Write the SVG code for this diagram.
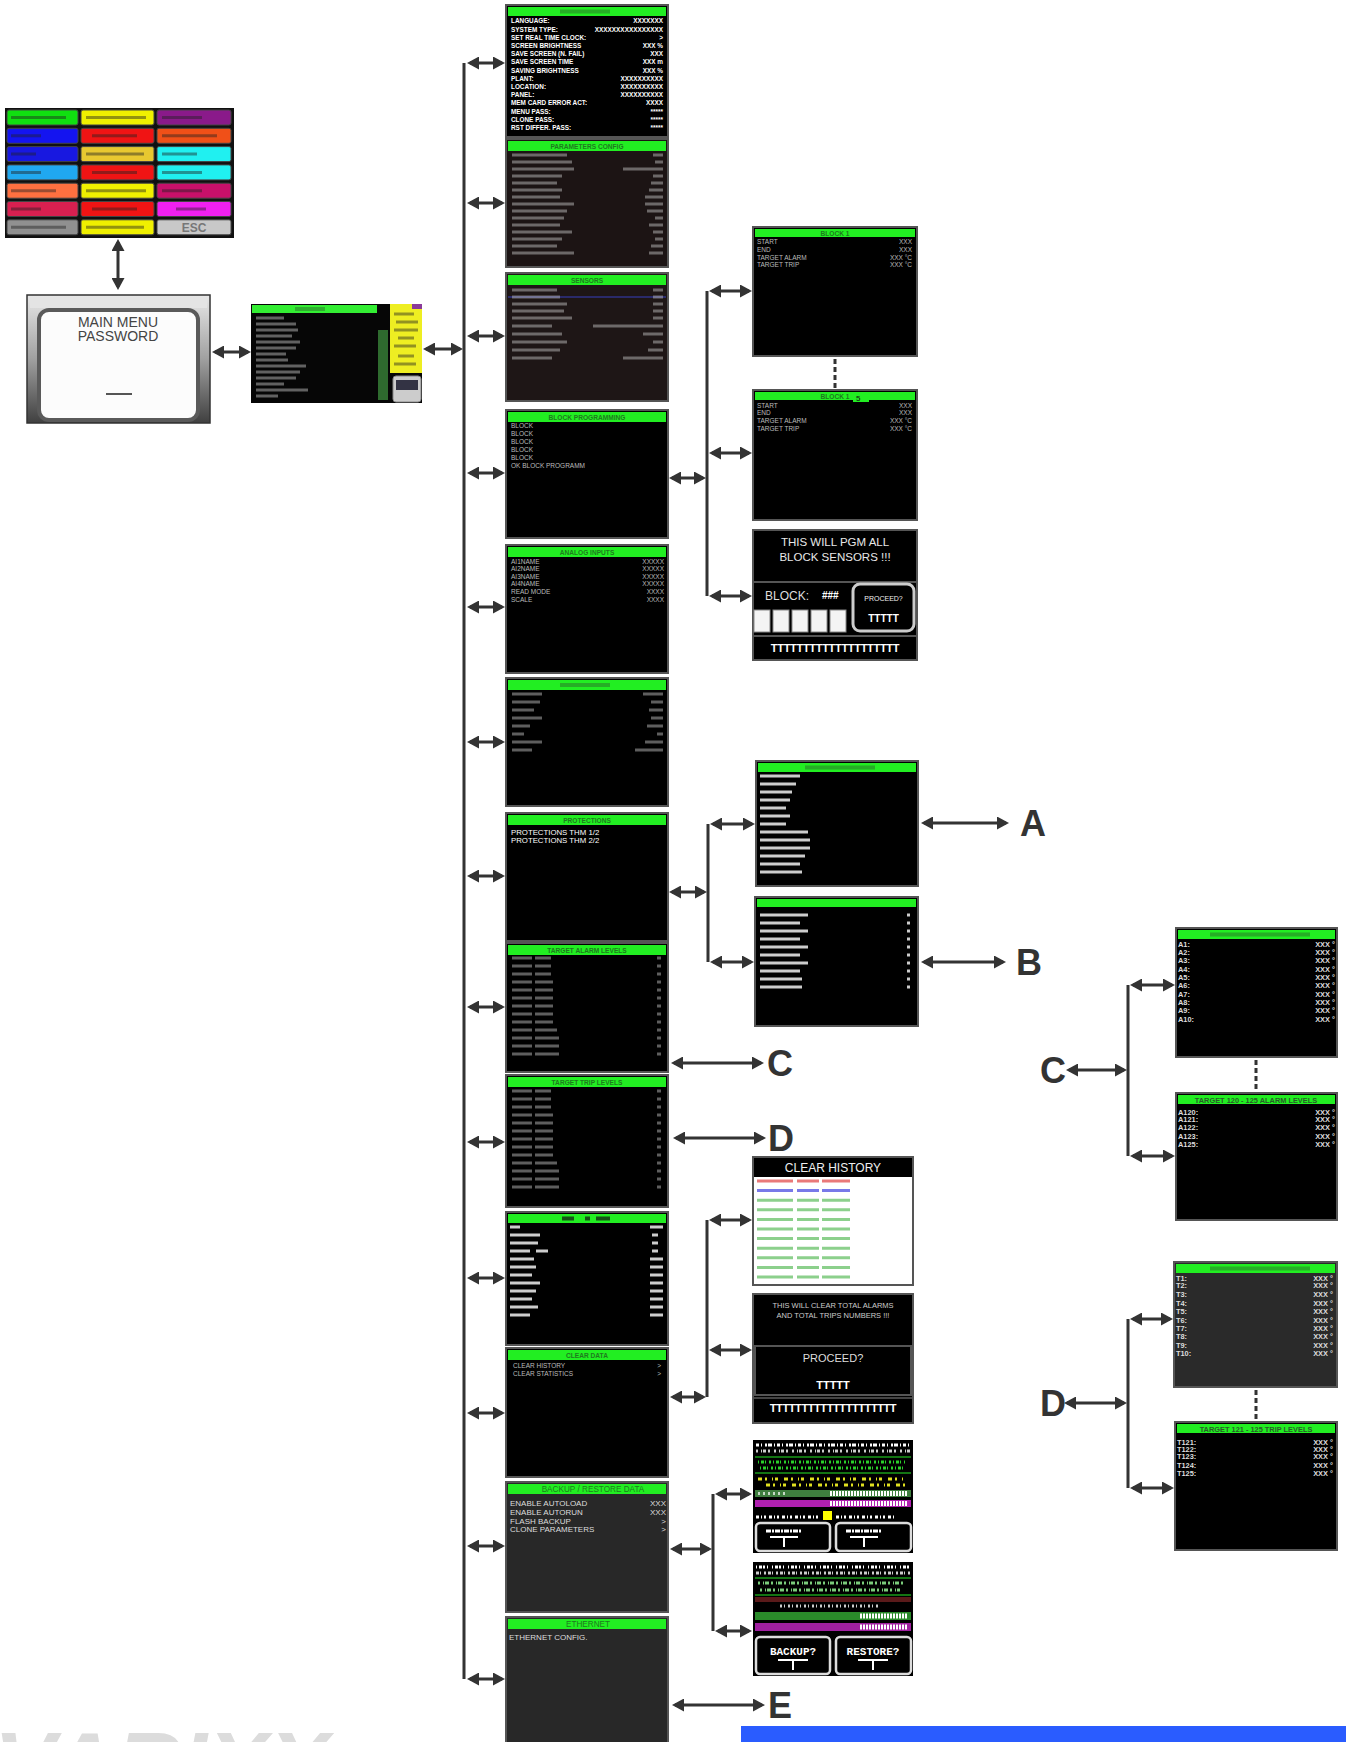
<svg xmlns="http://www.w3.org/2000/svg" width="1346" height="1742" viewBox="0 0 1346 1742">
<defs>
<style>
.scr{stroke:#555;stroke-width:2}
.hdr{fill:#22ee22}
.ht{font-family:"Liberation Sans",Arial,sans-serif;font-weight:bold;font-size:6.6px;fill:#1f7a1f;text-anchor:middle}
.t{font-family:"Liberation Sans",Arial,sans-serif;font-weight:bold;font-size:6.4px;fill:#fff}
.tn{font-family:"Liberation Sans",Arial,sans-serif;font-size:6.5px;fill:#bbb}
.t8{font-family:"Liberation Sans",Arial,sans-serif;font-size:8px;fill:#ddd}
.ta{font-family:"Liberation Sans",Arial,sans-serif;font-weight:bold;font-size:7.4px;fill:#ddd}
.e{text-anchor:end}
.m{text-anchor:middle}
.hb{stroke:#2a7a2a;stroke-width:4;opacity:.55;fill:none}
.bw{stroke:#bbb;stroke-width:3;opacity:.5;fill:none}
.bs{stroke:#fff;stroke-width:3;opacity:.8;fill:none}
.bd{stroke:#222;stroke-width:3;opacity:.45;fill:none}
.ln{stroke:#333;stroke-width:3;fill:none}
.arr{stroke:#333;stroke-width:3;fill:none}
.dash{stroke:#333;stroke-width:3;stroke-dasharray:5 3;fill:none}
.big{font-family:"Liberation Sans",Arial,sans-serif;font-weight:bold;font-size:36px;fill:#333}
.nz{fill:none;stroke-width:3}
</style>
<marker id="ah" viewBox="0 0 12 13" refX="9" refY="6.5" markerWidth="12" markerHeight="13" markerUnits="userSpaceOnUse" orient="auto-start-reverse">
<path d="M0,0 L12,6.5 L0,13 Z" fill="#333"/>
</marker>
<linearGradient id="bez" x1="0" y1="0" x2="0" y2="1">
<stop offset="0" stop-color="#e8e8e8"/>
<stop offset="0.5" stop-color="#a0a0a0"/>
<stop offset="1" stop-color="#404040"/>
</linearGradient>
</defs>
<rect width="1346" height="1742" fill="#fff"/>

<!-- logo -->
<text x="-6" y="1797" font-family="Liberation Sans, Arial, sans-serif" font-weight="bold" font-style="italic" font-size="92" fill="#dcdcdc">VARIXX</text>
<rect x="741" y="1726" width="605" height="16" fill="#2a5cff"/>

<!-- color grid -->
<g id="color-grid">
<rect x="5" y="108" width="229" height="130" fill="#111"/>
<rect x="7" y="110" width="71" height="15" rx="2" fill="#10e010" stroke="#444"/>
<rect x="81" y="110" width="73" height="15" rx="2" fill="#f0f000" stroke="#444"/>
<rect x="157" y="110" width="74" height="15" rx="2" fill="#8a1a8a" stroke="#444"/>
<rect x="7" y="128.3" width="71" height="15" rx="2" fill="#1414f0" stroke="#444"/>
<rect x="81" y="128.3" width="73" height="15" rx="2" fill="#f01414" stroke="#444"/>
<rect x="157" y="128.3" width="74" height="15" rx="2" fill="#f05018" stroke="#444"/>
<rect x="7" y="146.6" width="71" height="15" rx="2" fill="#1818e0" stroke="#444"/>
<rect x="81" y="146.6" width="73" height="15" rx="2" fill="#e8c830" stroke="#444"/>
<rect x="157" y="146.6" width="74" height="15" rx="2" fill="#20f0f0" stroke="#444"/>
<rect x="7" y="164.9" width="71" height="15" rx="2" fill="#20a8f0" stroke="#444"/>
<rect x="81" y="164.9" width="73" height="15" rx="2" fill="#f01414" stroke="#444"/>
<rect x="157" y="164.9" width="74" height="15" rx="2" fill="#20f0f0" stroke="#444"/>
<rect x="7" y="183.2" width="71" height="15" rx="2" fill="#ff7040" stroke="#444"/>
<rect x="81" y="183.2" width="73" height="15" rx="2" fill="#f0f000" stroke="#444"/>
<rect x="157" y="183.2" width="74" height="15" rx="2" fill="#c8106a" stroke="#444"/>
<rect x="7" y="201.5" width="71" height="15" rx="2" fill="#d82050" stroke="#444"/>
<rect x="81" y="201.5" width="73" height="15" rx="2" fill="#f01414" stroke="#444"/>
<rect x="157" y="201.5" width="74" height="15" rx="2" fill="#f020f0" stroke="#444"/>
<rect x="7" y="219.8" width="71" height="15" rx="2" fill="#909090" stroke="#444"/>
<rect x="81" y="219.8" width="73" height="15" rx="2" fill="#f0f000" stroke="#444"/>
<rect x="157" y="219.8" width="74" height="15" rx="2" fill="#c8c8c8" stroke="#444"/>
<path class="bd" d="M11 117.5h55M86 117.5h60M162 117.5h40M11 135.8h30M92 135.8h45M162 135.8h55M11 154.1h25M86 154.1h58M162 154.1h35M11 172.4h30M92 172.4h45M162 172.4h40M11 190.7h45M86 190.7h60M162 190.7h40M11 209h30M92 209h45M176 209h30M11 227.3h55M86 227.3h58"/>
<text x="194" y="231.5" font-family="Liberation Sans, Arial, sans-serif" font-weight="bold" font-size="12" fill="#777" text-anchor="middle">ESC</text>
</g>

<!-- password -->
<g id="main-menu-password">
<rect x="27" y="295" width="183" height="128" fill="url(#bez)" stroke="#333" stroke-width="1.5"/>
<rect x="30" y="297" width="177" height="11" fill="#e4e4e4"/>
<rect x="39" y="310" width="159" height="110" rx="10" fill="#fcfcfc" stroke="#5a5a5a" stroke-width="4"/>
<text x="118" y="327" font-family="Liberation Sans, Arial, sans-serif" font-size="14" fill="#444" text-anchor="middle">MAIN MENU</text>
<text x="118" y="341" font-family="Liberation Sans, Arial, sans-serif" font-size="14" fill="#444" text-anchor="middle">PASSWORD</text>
<path d="M106 394h26" stroke="#555" stroke-width="2"/>
</g>

<!-- main menu -->
<g id="main-menu">
<rect x="251" y="304" width="171" height="99" fill="#060606"/>
<rect x="252" y="305" width="125" height="8" fill="#33ee33"/>
<path class="hb" d="M295 309h30"/>
<path class="bw" d="M256 318h28M256 324h40M256 330h42M256 336h36M256 342h44M256 348h40M256 354h30M256 360h32M256 366h50M256 372h44M256 378h40M256 384h28M256 390h52M256 396h22"/>
<rect x="378" y="330" width="10" height="70" fill="#2e6a2e"/>
<rect x="390" y="304" width="32" height="69" fill="#eeee22"/>
<rect x="412" y="304" width="10" height="5" fill="#8a3a9a"/>
<path class="bd" d="M394 314h20M396 322h22M394 330h24M398 338h16M394 346h22M398 356h16M394 364h22"/>
<rect x="393" y="376" width="28" height="26" rx="3" fill="#ccc" stroke="#888"/>
<rect x="396" y="380" width="22" height="10" fill="#334"/>
</g>

<!-- column screens -->
<g id="general-setup">
<rect class="scr" x="506" y="5" width="162" height="132" fill="#000"/>
<rect class="hdr" x="508" y="7" width="158" height="9"/>
<path class="hb" d="M560 11.5h50"/>
<text class="t" x="511" y="23.4">LANGUAGE:</text><text class="t e" x="663" y="23.4">XXXXXXX</text>
<text class="t" x="511" y="31.6">SYSTEM TYPE:</text><text class="t e" x="663" y="31.6">XXXXXXXXXXXXXXXX</text>
<text class="t" x="511" y="39.8">SET REAL TIME CLOCK:</text><text class="t e" x="663" y="39.8">&gt;</text>
<text class="t" x="511" y="48">SCREEN BRIGHTNESS</text><text class="t e" x="663" y="48">XXX %</text>
<text class="t" x="511" y="56.2">SAVE SCREEN (N. FAIL)</text><text class="t e" x="663" y="56.2">XXX</text>
<text class="t" x="511" y="64.4">SAVE SCREEN TIME</text><text class="t e" x="663" y="64.4">XXX m</text>
<text class="t" x="511" y="72.6">SAVING BRIGHTNESS</text><text class="t e" x="663" y="72.6">XXX %</text>
<text class="t" x="511" y="80.8">PLANT:</text><text class="t e" x="663" y="80.8">XXXXXXXXXX</text>
<text class="t" x="511" y="89">LOCATION:</text><text class="t e" x="663" y="89">XXXXXXXXXX</text>
<text class="t" x="511" y="97.2">PANEL:</text><text class="t e" x="663" y="97.2">XXXXXXXXXX</text>
<text class="t" x="511" y="105.4">MEM CARD ERROR ACT:</text><text class="t e" x="663" y="105.4">XXXX</text>
<text class="t" x="511" y="113.6">MENU PASS:</text><text class="t e" x="663" y="113.6">*****</text>
<text class="t" x="511" y="121.8">CLONE PASS:</text><text class="t e" x="663" y="121.8">*****</text>
<text class="t" x="511" y="130">RST  DIFFER. PASS:</text><text class="t e" x="663" y="130">*****</text>
</g>

<g id="parameters-config">
<rect class="scr" x="506" y="139" width="162" height="128" fill="#1c1414"/>
<rect class="hdr" x="508" y="141" width="158" height="10"/>
<text class="ht" x="587" y="148.5">PARAMETERS CONFIG</text>
<path class="bw" d="M512 155h55M512 162h60M512 169h62M512 176h50M512 183h45M512 190h50M512 197h48M512 204h62M512 211h55M512 218h52M512 225h48M512 232h60M512 239h50M512 246h45M512 253h62M653 155h10M655 162h8M623 169h40M653 176h10M651 183h12M649 190h14M645 197h18M645 204h18M647 211h16M655 218h8M649 225h14M653 232h10M655 239h8M651 246h12M649 253h14"/>
</g>

<g id="sensors">
<rect class="scr" x="506" y="273" width="162" height="128" fill="#1e1616"/>
<rect class="hdr" x="508" y="275" width="158" height="10"/>
<text class="ht" x="587" y="282.5">SENSORS</text>
<path d="M508 297h158" stroke="#2a2a6a" stroke-width="2"/>
<path class="bw" d="M512 290h45M512 297h48M512 304h55M512 311h52M512 318h60M512 326h40M512 334h50M512 342h55M512 350h48M512 358h40M653 290h10M653 297h10M653 304h10M653 311h10M653 318h10M593 326h70M643 334h20M653 342h10M648 350h15M623 358h40"/>
</g>

<g id="block-programming">
<rect class="scr" x="506" y="410" width="162" height="128" fill="#000"/>
<rect class="hdr" x="508" y="412" width="158" height="10"/>
<text class="ht" x="587" y="419.5">BLOCK PROGRAMMING</text>
<text class="tn" x="511" y="427.5">BLOCK</text>
<text class="tn" x="511" y="435.5">BLOCK</text>
<text class="tn" x="511" y="443.5">BLOCK</text>
<text class="tn" x="511" y="451.5">BLOCK</text>
<text class="tn" x="511" y="459.5">BLOCK</text>
<text class="tn" x="511" y="467.5">OK BLOCK PROGRAMM</text>
</g>

<g id="analog-inputs">
<rect class="scr" x="506" y="545" width="162" height="128" fill="#000"/>
<rect class="hdr" x="508" y="547" width="158" height="10"/>
<text class="ht" x="587" y="554.5">ANALOG INPUTS</text>
<text class="tn" x="511" y="563.5">AI1NAME</text><text class="tn e" x="664" y="563.5">XXXXX</text>
<text class="tn" x="511" y="571">AI2NAME</text><text class="tn e" x="664" y="571">XXXXX</text>
<text class="tn" x="511" y="578.5">AI3NAME</text><text class="tn e" x="664" y="578.5">XXXXX</text>
<text class="tn" x="511" y="586">AI4NAME</text><text class="tn e" x="664" y="586">XXXXX</text>
<text class="tn" x="511" y="594">READ MODE</text><text class="tn e" x="664" y="594">XXXX</text>
<text class="tn" x="511" y="601.5">SCALE</text><text class="tn e" x="664" y="601.5">XXXX</text>
</g>

<g id="communication">
<rect class="scr" x="506" y="678" width="162" height="128" fill="#000"/>
<rect class="hdr" x="508" y="680" width="158" height="10"/>
<path class="hb" d="M560 685h50"/>
<path class="bw" d="M512 694h30M512 702h28M512 710h22M512 718h30M512 726h18M512 734h12M512 742h30M512 750h20M643 694h20M651 702h12M649 710h14M651 718h12M647 726h16M657 734h6M645 742h18M635 750h28"/>
</g>

<g id="protections">
<rect class="scr" x="506" y="813" width="162" height="128" fill="#000"/>
<rect class="hdr" x="508" y="815" width="158" height="10"/>
<text class="ht" x="587" y="822.5">PROTECTIONS</text>
<text x="511" y="835" font-family="Liberation Sans, Arial, sans-serif" font-size="7.8" fill="#fff">PROTECTIONS THM 1/2</text>
<text x="511" y="843" font-family="Liberation Sans, Arial, sans-serif" font-size="7.8" fill="#fff">PROTECTIONS THM 2/2</text>
</g>

<g id="target-alarm-levels">
<rect class="scr" x="506" y="943" width="162" height="129" fill="#000"/>
<rect class="hdr" x="508" y="945" width="158" height="10"/>
<text class="ht" x="587" y="952.5">TARGET ALARM LEVELS</text>
<path class="bw" d="M512 958h20M535 958h16M512 966h20M535 966h16M512 974h20M535 974h16M512 982h20M535 982h18M512 990h20M535 990h18M512 998h20M535 998h18M512 1006h20M535 1006h18M512 1014h20M535 1014h18M512 1022h20M535 1022h18M512 1030h20M535 1030h22M512 1038h20M535 1038h24M512 1046h20M535 1046h24M512 1054h20M535 1054h24M657 958h4M657 966h4M657 974h4M657 982h4M657 990h4M657 998h4M657 1006h4M657 1014h4M657 1022h4M657 1030h4M657 1038h4M657 1046h4M657 1054h4"/>
</g>

<g id="target-trip-levels">
<rect class="scr" x="506" y="1075" width="162" height="132" fill="#000"/>
<rect class="hdr" x="508" y="1077" width="158" height="10"/>
<text class="ht" x="587" y="1084.5">TARGET TRIP LEVELS</text>
<path class="bw" d="M512 1091h20M535 1091h16M512 1099h20M535 1099h16M512 1107h20M535 1107h16M512 1115h20M535 1115h18M512 1123h20M535 1123h18M512 1131h20M535 1131h18M512 1139h20M535 1139h18M512 1147h20M535 1147h18M512 1155h20M535 1155h18M512 1163h20M535 1163h22M512 1171h20M535 1171h24M512 1179h20M535 1179h24M512 1187h20M535 1187h24M657 1091h4M657 1099h4M657 1107h4M657 1115h4M657 1123h4M657 1131h4M657 1139h4M657 1147h4M657 1155h4M657 1163h4M657 1171h4M657 1179h4M657 1187h4"/>
</g>

<g id="statistics">
<rect class="scr" x="506" y="1212" width="162" height="133" fill="#000"/>
<rect class="hdr" x="508" y="1214" width="158" height="9"/>
<path d="M562 1218.5h12M585 1218.5h5M596 1218.5h14" stroke="#111" stroke-width="4" opacity=".7"/>
<path class="bs" d="M510 1227h10M510 1235h30M510 1243h28M510 1251h20M536 1251h12M510 1259h24M510 1267h26M510 1275h22M510 1283h30M510 1291h26M510 1299h22M510 1307h28M510 1315h20M650 1227h13M652 1235h6M652 1243h6M652 1251h6M650 1259h13M650 1267h13M650 1275h13M650 1283h13M650 1291h13M650 1299h13M650 1307h13M650 1315h13"/>
</g>

<g id="clear-data">
<rect class="scr" x="506" y="1348" width="162" height="129" fill="#000"/>
<rect class="hdr" x="508" y="1350" width="158" height="10"/>
<text class="ht" x="587" y="1357.5">CLEAR DATA</text>
<text class="tn" x="513" y="1368" fill="#999">CLEAR HISTORY</text><text class="tn e" x="661" y="1368">&gt;</text>
<text class="tn" x="513" y="1376" fill="#999">CLEAR STATISTICS</text><text class="tn e" x="661" y="1376">&gt;</text>
</g>

<g id="backup-restore">
<rect class="scr" x="506" y="1482" width="162" height="130" fill="#282828"/>
<rect class="hdr" x="508" y="1484" width="158" height="10"/>
<text x="593" y="1492" font-family="Liberation Sans, Arial, sans-serif" font-size="8.2" fill="#1f7a1f" text-anchor="middle">BACKUP / RESTORE DATA</text>
<text class="t8" x="510" y="1506">ENABLE AUTOLOAD</text><text class="t8 e" x="666" y="1506">XXX</text>
<text class="t8" x="510" y="1515">ENABLE AUTORUN</text><text class="t8 e" x="666" y="1515">XXX</text>
<text class="t8" x="510" y="1524">FLASH BACKUP</text><text class="t8 e" x="666" y="1524">&gt;</text>
<text class="t8" x="510" y="1532">CLONE PARAMETERS</text><text class="t8 e" x="666" y="1532">&gt;</text>
</g>

<g id="ethernet">
<rect class="scr" x="506" y="1617" width="162" height="130" fill="#282828"/>
<rect class="hdr" x="508" y="1619" width="158" height="10"/>
<text x="588" y="1627" font-family="Liberation Sans, Arial, sans-serif" font-size="8.2" fill="#1f7a1f" text-anchor="middle">ETHERNET</text>
<text class="t8" x="509" y="1640">ETHERNET CONFIG.</text>
</g>

<!-- block screens -->
<g id="block-1">
<rect class="scr" x="753" y="227" width="164" height="129" fill="#000"/>
<rect class="hdr" x="755" y="229" width="160" height="8"/>
<text class="ht" x="835" y="235.5">BLOCK 1</text>
<text class="tn" x="757" y="244">START</text><text class="tn e" x="912" y="244">XXX</text>
<text class="tn" x="757" y="251.5">END</text><text class="tn e" x="912" y="251.5">XXX</text>
<text class="tn" x="757" y="259.5">TARGET ALARM</text><text class="tn e" x="912" y="259.5">XXX °C</text>
<text class="tn" x="757" y="267">TARGET TRIP</text><text class="tn e" x="912" y="267">XXX °C</text>
</g>
<g id="block-5">
<rect class="scr" x="753" y="390" width="164" height="130" fill="#000"/>
<rect class="hdr" x="755" y="392" width="160" height="8"/>
<text class="ht" x="835" y="398.5">BLOCK 1</text>
<rect x="853" y="393" width="16" height="9" fill="#22ee22"/>
<text x="856" y="401" font-family="Liberation Sans, Arial, sans-serif" font-size="8" fill="#111">5</text>
<text class="tn" x="757" y="407.5">START</text><text class="tn e" x="912" y="407.5">XXX</text>
<text class="tn" x="757" y="415">END</text><text class="tn e" x="912" y="415">XXX</text>
<text class="tn" x="757" y="423">TARGET ALARM</text><text class="tn e" x="912" y="423">XXX °C</text>
<text class="tn" x="757" y="431">TARGET TRIP</text><text class="tn e" x="912" y="431">XXX °C</text>
</g>
<g id="block-pgm-all">
<rect class="scr" x="753" y="530" width="164" height="130" fill="#000"/>
<text x="835" y="546" font-family="Liberation Sans, Arial, sans-serif" font-size="11.5" fill="#e8e8e8" text-anchor="middle">THIS WILL PGM ALL</text>
<text x="835" y="561" font-family="Liberation Sans, Arial, sans-serif" font-size="11.5" fill="#e8e8e8" text-anchor="middle">BLOCK SENSORS !!!</text>
<path d="M754 582h162M754 636h162" stroke="#555" stroke-width="2"/>
<text x="765" y="600" font-family="Liberation Sans, Arial, sans-serif" font-size="12" fill="#ddd">BLOCK:</text>
<text x="822" y="599" font-family="Liberation Sans, Arial, sans-serif" font-weight="bold" font-size="10" fill="#fff">###</text>
<rect x="853" y="584" width="61" height="47" rx="7" fill="#000" stroke="#ccc" stroke-width="3"/>
<text x="883.5" y="601" font-family="Liberation Sans, Arial, sans-serif" font-size="7" fill="#eee" text-anchor="middle">PROCEED?</text>
<text x="883.5" y="622" font-family="Liberation Sans, Arial, sans-serif" font-weight="bold" font-size="10" fill="#fff" text-anchor="middle">TTTTT</text>
<rect x="754" y="610" width="16" height="22" fill="#f4f4f4" stroke="#888"/>
<rect x="773" y="610" width="16" height="22" fill="#f4f4f4" stroke="#888"/>
<rect x="792" y="610" width="16" height="22" fill="#f4f4f4" stroke="#888"/>
<rect x="811" y="610" width="16" height="22" fill="#f4f4f4" stroke="#888"/>
<rect x="830" y="610" width="16" height="22" fill="#f4f4f4" stroke="#888"/>
<text x="835" y="652" font-family="Liberation Sans, Arial, sans-serif" font-weight="bold" font-size="11" fill="#fff" text-anchor="middle" letter-spacing="-0.3">TTTTTTTTTTTTTTTTTTTT</text>
</g>

<!-- protections sub screens -->
<g id="protections-thm-1">
<rect class="scr" x="756" y="761" width="162" height="125" fill="#000"/>
<rect class="hdr" x="758" y="763" width="158" height="9"/>
<path class="hb" d="M805 767.5h70"/>
<path class="bs" d="M760 776h40M760 784h36M760 792h32M760 800h30M760 808h26M760 816h30M760 824h26M760 832h48M760 840h50M760 848h50M760 856h45M760 864h40M760 872h42"/>
</g>
<g id="protections-thm-2">
<rect class="scr" x="755" y="897" width="163" height="129" fill="#000"/>
<rect class="hdr" x="757" y="899" width="159" height="8"/>
<path class="bs" d="M760 915h48M760 923h40M760 931h48M760 939h40M760 947h48M760 955h40M760 963h48M760 971h40M760 979h42M760 987h42M907 915h3M907 923h3M907 931h3M907 939h3M907 947h3M907 955h3M907 963h3M907 971h3M907 979h3M907 987h3"/>
</g>

<!-- clear sub screens -->
<g id="clear-history">
<rect class="scr" x="753" y="1157" width="160" height="128" fill="#fff"/>
<rect x="754" y="1158" width="158" height="19" fill="#000"/>
<text x="833" y="1172" font-family="Liberation Sans, Arial, sans-serif" font-size="12" fill="#eee" text-anchor="middle">CLEAR HISTORY</text>
<path class="nz" stroke="#e04040" opacity=".7" d="M757 1181h36M797 1181h22M822 1181h28"/>
<path class="nz" stroke="#4040e0" opacity=".7" d="M757 1190.6h36M797 1190.6h22M822 1190.6h28"/>
<path class="nz" stroke="#40b040" opacity=".6" d="M757 1200.2h36M797 1200.2h22M822 1200.2h28M757 1209.8h36M797 1209.8h22M822 1209.8h28M757 1219.4h36M797 1219.4h22M822 1219.4h28M757 1229h36M797 1229h22M822 1229h28M757 1238.6h36M797 1238.6h22M822 1238.6h28M757 1248.2h36M797 1248.2h22M822 1248.2h28M757 1257.8h36M797 1257.8h22M822 1257.8h28M757 1267.4h36M797 1267.4h22M822 1267.4h28M757 1277h36M797 1277h22M822 1277h28"/>
</g>
<g id="clear-totals">
<rect class="scr" x="753" y="1294" width="160" height="129" fill="#000"/>
<text x="833" y="1308" font-family="Liberation Sans, Arial, sans-serif" font-size="7.5" fill="#ccc" text-anchor="middle">THIS WILL CLEAR TOTAL ALARMS</text>
<text x="833" y="1318" font-family="Liberation Sans, Arial, sans-serif" font-size="7.5" fill="#ccc" text-anchor="middle">AND TOTAL TRIPS NUMBERS !!!</text>
<rect x="755" y="1346" width="156" height="49" fill="#000" stroke="#555" stroke-width="2"/>
<text x="833" y="1362" font-family="Liberation Sans, Arial, sans-serif" font-size="11" fill="#ddd" text-anchor="middle">PROCEED?</text>
<text x="833" y="1389" font-family="Liberation Sans, Arial, sans-serif" font-weight="bold" font-size="11" fill="#fff" text-anchor="middle">TTTTT</text>
<path d="M754 1398h158" stroke="#444" stroke-width="2"/>
<text x="833" y="1412" font-family="Liberation Sans, Arial, sans-serif" font-weight="bold" font-size="11" fill="#fff" text-anchor="middle" letter-spacing="-0.4">TTTTTTTTTTTTTTTTTTTT</text>
</g>

<!-- backup sub screens -->
<g id="flash-backup">
<rect x="753" y="1440" width="160" height="113" fill="#000"/>
<path class="nz" stroke="#fff" stroke-dasharray="3 2 1 3 2 1 4 2 1 2" d="M756 1445H910"/>
<path class="nz" stroke="#fff" stroke-dasharray="2 3 1 1 3 2 2 4" opacity=".8" d="M756 1451H910"/>
<path d="M755 1457H911M755 1473H911" stroke="#1a9a1a" stroke-width="1.5"/>
<path class="nz" stroke="#2ad02a" stroke-dasharray="1 2 3 1 1 3 2 2" d="M758 1462H905M760 1468H905"/>
<path class="nz" stroke="#e0e020" stroke-dasharray="4 3 2 5 1 2 3 6" d="M758 1479H905M766 1485H905"/>
<rect x="755" y="1490" width="156" height="7" fill="#3e7e3e"/>
<path d="M830 1493.5H908" stroke="#fff" stroke-width="5" stroke-dasharray="2 1"/>
<path d="M758 1493.5h30" stroke="#fff" stroke-width="3" stroke-dasharray="2 3" opacity=".7"/>
<rect x="755" y="1500" width="156" height="7" fill="#b020b0"/>
<path d="M830 1503.5H908" stroke="#fff" stroke-width="5" stroke-dasharray="2 1"/>
<path class="nz" stroke="#fff" stroke-dasharray="3 2 1 2 2 3" d="M756 1517H820M836 1517H895"/>
<rect x="823" y="1511" width="9" height="9" fill="#ffff00"/>
<rect x="756" y="1523" width="74" height="28" rx="4" fill="#000" stroke="#ddd" stroke-width="2.5"/>
<rect x="836" y="1523" width="75" height="28" rx="4" fill="#000" stroke="#ddd" stroke-width="2.5"/>
<path class="nz" stroke="#fff" stroke-dasharray="5 1 2 1" d="M766 1531h36M846 1531h36"/>
<path d="M770 1537h28M784 1537v10M850 1537h28M864 1537v10" stroke="#fff" stroke-width="2"/>
</g>
<g id="backup-restore-confirm">
<rect x="753" y="1562" width="160" height="114" fill="#000"/>
<path class="nz" stroke="#fff" stroke-dasharray="1 2 3 1 2 2 1 4" d="M756 1567H910"/>
<path class="nz" stroke="#fff" stroke-dasharray="3 1 1 3 2 2" opacity=".8" d="M756 1573H910"/>
<path d="M755 1578H911M755 1595H911" stroke="#1a9a1a" stroke-width="1.5"/>
<path class="nz" stroke="#9aff9a" stroke-dasharray="2 3 1 1 4 2" opacity=".8" d="M758 1583H905M760 1590H900"/>
<rect x="755" y="1597" width="156" height="5" fill="#5a1a1a"/>
<path class="nz" stroke="#fff" stroke-dasharray="2 2 1 3" opacity=".8" d="M780 1606H880"/>
<rect x="755" y="1612" width="156" height="8" fill="#2a8a2a"/>
<path d="M860 1616H908" stroke="#fff" stroke-width="5" stroke-dasharray="2 1"/>
<rect x="755" y="1623" width="156" height="8" fill="#a020a0"/>
<path d="M860 1627H908" stroke="#fff" stroke-width="5" stroke-dasharray="2 1"/>
<rect x="756" y="1637" width="74" height="37" rx="4" fill="#000" stroke="#ddd" stroke-width="2.5"/>
<rect x="836" y="1637" width="75" height="37" rx="4" fill="#000" stroke="#ddd" stroke-width="2.5"/>
<text x="793" y="1655" font-family="Liberation Mono, monospace" font-weight="bold" font-size="11" fill="#fff" text-anchor="middle">BACKUP?</text>
<text x="873" y="1655" font-family="Liberation Mono, monospace" font-weight="bold" font-size="11" fill="#fff" text-anchor="middle">RESTORE?</text>
<path d="M778 1660h30M793 1660v10M858 1660h30M873 1660v10" stroke="#fff" stroke-width="2"/>
</g>

<!-- C screens -->
<g id="target-alarm-1-10">
<rect class="scr" x="1176" y="928" width="161" height="129" fill="#000"/>
<rect class="hdr" x="1178" y="930" width="157" height="9"/>
<path class="hb" d="M1210 934.5h100"/>
<text class="ta" x="1178" y="947">A1:</text><text class="ta e" x="1335" y="947">XXX °</text>
<text class="ta" x="1178" y="955">A2:</text><text class="ta e" x="1335" y="955">XXX °</text>
<text class="ta" x="1178" y="963">A3:</text><text class="ta e" x="1335" y="963">XXX °</text>
<text class="ta" x="1178" y="972">A4:</text><text class="ta e" x="1335" y="972">XXX °</text>
<text class="ta" x="1178" y="980">A5:</text><text class="ta e" x="1335" y="980">XXX °</text>
<text class="ta" x="1178" y="988">A6:</text><text class="ta e" x="1335" y="988">XXX °</text>
<text class="ta" x="1178" y="997">A7:</text><text class="ta e" x="1335" y="997">XXX °</text>
<text class="ta" x="1178" y="1005">A8:</text><text class="ta e" x="1335" y="1005">XXX °</text>
<text class="ta" x="1178" y="1013">A9:</text><text class="ta e" x="1335" y="1013">XXX °</text>
<text class="ta" x="1178" y="1022">A10:</text><text class="ta e" x="1335" y="1022">XXX °</text>
</g>
<g id="target-alarm-120-125">
<rect class="scr" x="1176" y="1093" width="161" height="127" fill="#000"/>
<rect class="hdr" x="1178" y="1095" width="157" height="9"/>
<text x="1256" y="1102.5" font-family="Liberation Sans, Arial, sans-serif" font-weight="bold" font-size="7.4" fill="#2a5a2a" text-anchor="middle">TARGET 120 - 125 ALARM LEVELS</text>
<text class="ta" x="1178" y="1115">A120:</text><text class="ta e" x="1335" y="1115">XXX °</text>
<text class="ta" x="1178" y="1122">A121:</text><text class="ta e" x="1335" y="1122">XXX °</text>
<text class="ta" x="1178" y="1130">A122:</text><text class="ta e" x="1335" y="1130">XXX °</text>
<text class="ta" x="1178" y="1139">A123:</text><text class="ta e" x="1335" y="1139">XXX °</text>
<text class="ta" x="1178" y="1147">A125:</text><text class="ta e" x="1335" y="1147">XXX °</text>
</g>

<!-- D screens -->
<g id="target-trip-1-10">
<rect class="scr" x="1174" y="1262" width="163" height="125" fill="#2a2a2a"/>
<rect class="hdr" x="1176" y="1264" width="159" height="9"/>
<path class="hb" d="M1210 1268.5h100"/>
<text class="ta" x="1176" y="1281">T1:</text><text class="ta e" x="1333" y="1281">XXX °</text>
<text class="ta" x="1176" y="1288">T2:</text><text class="ta e" x="1333" y="1288">XXX °</text>
<text class="ta" x="1176" y="1297">T3:</text><text class="ta e" x="1333" y="1297">XXX °</text>
<text class="ta" x="1176" y="1306">T4:</text><text class="ta e" x="1333" y="1306">XXX °</text>
<text class="ta" x="1176" y="1314">T5:</text><text class="ta e" x="1333" y="1314">XXX °</text>
<text class="ta" x="1176" y="1323">T6:</text><text class="ta e" x="1333" y="1323">XXX °</text>
<text class="ta" x="1176" y="1331">T7:</text><text class="ta e" x="1333" y="1331">XXX °</text>
<text class="ta" x="1176" y="1339">T8:</text><text class="ta e" x="1333" y="1339">XXX °</text>
<text class="ta" x="1176" y="1348">T9:</text><text class="ta e" x="1333" y="1348">XXX °</text>
<text class="ta" x="1176" y="1356">T10:</text><text class="ta e" x="1333" y="1356">XXX °</text>
</g>
<g id="target-trip-121-125">
<rect class="scr" x="1175" y="1422" width="162" height="128" fill="#000"/>
<rect class="hdr" x="1177" y="1424" width="158" height="9"/>
<text x="1256" y="1431.5" font-family="Liberation Sans, Arial, sans-serif" font-weight="bold" font-size="7.4" fill="#2a5a2a" text-anchor="middle">TARGET 121 - 125 TRIP LEVELS</text>
<text class="ta" x="1177" y="1445">T121:</text><text class="ta e" x="1333" y="1445">XXX °</text>
<text class="ta" x="1177" y="1451.5">T122:</text><text class="ta e" x="1333" y="1451.5">XXX °</text>
<text class="ta" x="1177" y="1459">T123:</text><text class="ta e" x="1333" y="1459">XXX °</text>
<text class="ta" x="1177" y="1468">T124:</text><text class="ta e" x="1333" y="1468">XXX °</text>
<text class="ta" x="1177" y="1476">T125:</text><text class="ta e" x="1333" y="1476">XXX °</text>
</g>

<!-- letters -->
<g id="labels">
<text class="big" x="1020" y="836">A</text>
<text class="big" x="1016" y="975">B</text>
<text class="big" x="767" y="1076">C</text>
<text class="big" x="768" y="1151">D</text>
<text class="big" x="768" y="1718">E</text>
<text class="big" x="1040" y="1083">C</text>
<text class="big" x="1040" y="1416">D</text>
</g>

<g id="connectors">
<path class="ln" d="M464 63V1679M707 291V596M708 824V962M707 1220V1397M713 1494V1631M1128 985V1156M1128 1319V1488"/>
<path class="dash" d="M835 359V389M1256 1060V1092M1256 1390V1421"/>
<g class="arr" marker-start="url(#ah)" marker-end="url(#ah)">
<path d="M118 242V287"/>
<path d="M215 352H248"/>
<path d="M426 349H460"/>
<path d="M470 63H502"/>
<path d="M470 203H502"/>
<path d="M470 336H502"/>
<path d="M470 473H502"/>
<path d="M470 607H502"/>
<path d="M470 742H502"/>
<path d="M470 876H502"/>
<path d="M470 1007H502"/>
<path d="M470 1142H502"/>
<path d="M470 1278H502"/>
<path d="M470 1413H502"/>
<path d="M470 1546H502"/>
<path d="M470 1679H502"/>
<path d="M672 478H703"/>
<path d="M712 291H749"/>
<path d="M712 453H749"/>
<path d="M712 596H749"/>
<path d="M672 892H704"/>
<path d="M713 824H752"/>
<path d="M713 962H751"/>
<path d="M924 823H1006"/>
<path d="M924 962H1003"/>
<path d="M674 1063H761"/>
<path d="M676 1138H763"/>
<path d="M675 1705H762"/>
<path d="M673 1397H703"/>
<path d="M712 1220H749"/>
<path d="M712 1350H749"/>
<path d="M673 1549H709"/>
<path d="M718 1494H749"/>
<path d="M718 1631H749"/>
<path d="M1069 1070H1124"/>
<path d="M1133 985H1172"/>
<path d="M1133 1156H1172"/>
<path d="M1067 1403H1124"/>
<path d="M1133 1319H1170"/>
<path d="M1133 1488H1171"/>
</g>
</g>
</svg>
